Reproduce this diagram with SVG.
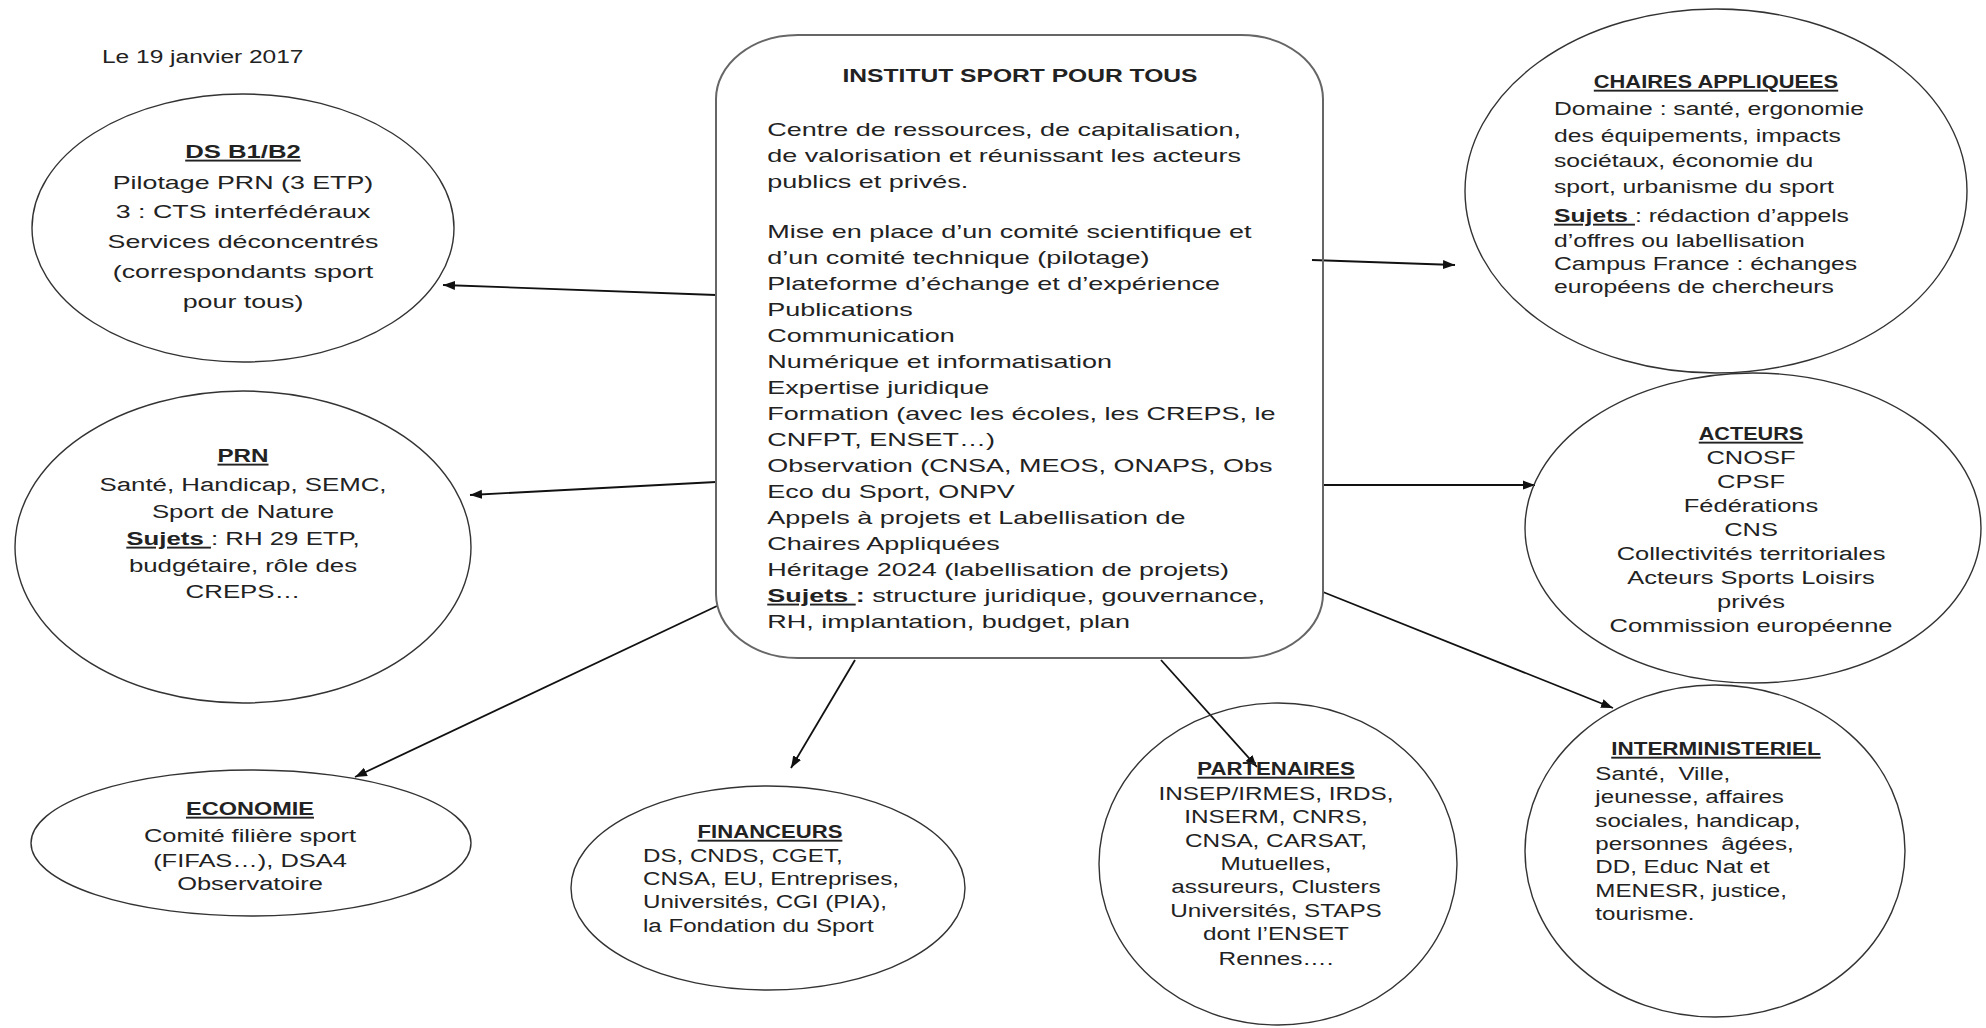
<svg xmlns="http://www.w3.org/2000/svg" width="1986" height="1028" viewBox="0 0 1986 1028">
<style>
.t{font-family:"Liberation Sans",Arial,sans-serif;font-size:19px;fill:#222}
.b{font-weight:bold}
.u{text-decoration:underline}
.m{text-anchor:middle}
.node{fill:none;stroke:#333;stroke-width:1.4}
.box{fill:none;stroke:#666;stroke-width:2}
.conn line{stroke:#111;stroke-width:1.8;marker-end:url(#ah)}
</style>
<defs>
<marker id="ah" markerUnits="userSpaceOnUse" markerWidth="13" markerHeight="10" refX="12" refY="5" orient="auto">
<path d="M0,0.5 L12,5 L0,9.5 Z" fill="#111"/>
</marker>
</defs>
<rect width="1986" height="1028" fill="#fff"/>

<g id="date" transform="translate(102,0) scale(1.29,1)">
<text class="t" x="0" y="63">Le 19 janvier 2017</text>
</g>

<g id="connectors" class="conn">
<line x1="716" y1="295" x2="443" y2="285"/>
<line x1="716" y1="482" x2="470" y2="495"/>
<line x1="717" y1="606" x2="355" y2="777"/>
<line x1="855" y1="660" x2="791" y2="768"/>
<line x1="1161" y1="660" x2="1257" y2="767"/>
<line x1="1323" y1="592" x2="1613" y2="708"/>
<line x1="1323" y1="485" x2="1535" y2="485"/>
<line x1="1312" y1="260" x2="1455" y2="265"/>
</g>

<g id="node-institut">
<rect class="box" x="716" y="35" width="607" height="623" rx="82" ry="64"/>
<g transform="translate(1020,0) scale(1.42,1)">
<text class="t b m" x="0" y="82" textLength="250" lengthAdjust="spacingAndGlyphs">INSTITUT SPORT POUR TOUS</text>
<text class="t" x="-178" y="136">Centre de ressources, de capitalisation,</text>
<text class="t" x="-178" y="162">de valorisation et réunissant les acteurs</text>
<text class="t" x="-178" y="188">publics et privés.</text>
<text class="t" x="-178" y="238">Mise en place d’un comité scientifique et</text>
<text class="t" x="-178" y="264">d’un comité technique (pilotage)</text>
<text class="t" x="-178" y="290">Plateforme d’échange et d’expérience</text>
<text class="t" x="-178" y="316">Publications</text>
<text class="t" x="-178" y="342">Communication</text>
<text class="t" x="-178" y="368">Numérique et informatisation</text>
<text class="t" x="-178" y="394">Expertise juridique</text>
<text class="t" x="-178" y="420">Formation (avec les écoles, les CREPS, le</text>
<text class="t" x="-178" y="446">CNFPT, ENSET…)</text>
<text class="t" x="-178" y="472">Observation (CNSA, MEOS, ONAPS, Obs</text>
<text class="t" x="-178" y="498">Eco du Sport, ONPV</text>
<text class="t" x="-178" y="524">Appels à projets et Labellisation de</text>
<text class="t" x="-178" y="550">Chaires Appliquées</text>
<text class="t" x="-178" y="576">Héritage 2024 (labellisation de projets)</text>
<text class="t" x="-178" y="602"><tspan class="b u">Sujets </tspan><tspan class="b">:</tspan> structure juridique, gouvernance,</text>
<text class="t" x="-178" y="628">RH, implantation, budget, plan</text>
</g>
</g>

<g id="node-ds">
<ellipse class="node" cx="243" cy="228" rx="211" ry="134"/>
<g transform="translate(243,0) scale(1.41,1)">
<text class="t b u m" x="0" y="158" textLength="82" lengthAdjust="spacingAndGlyphs">DS B1/B2</text>
<text class="t m" x="0" y="189">Pilotage PRN (3 ETP)</text>
<text class="t m" x="0" y="218">3 : CTS interfédéraux</text>
<text class="t m" x="0" y="248">Services déconcentrés</text>
<text class="t m" x="0" y="278">(correspondants sport</text>
<text class="t m" x="0" y="308">pour tous)</text>
</g>
</g>

<g id="node-prn">
<ellipse class="node" cx="243" cy="547" rx="228" ry="156"/>
<g transform="translate(243,0) scale(1.36,1)">
<text class="t b u m" x="0" y="462" textLength="37.5" lengthAdjust="spacingAndGlyphs">PRN</text>
<text class="t m" x="0" y="491">Santé, Handicap, SEMC,</text>
<text class="t m" x="0" y="518">Sport de Nature</text>
<text class="t m" x="0" y="545"><tspan class="b u">Sujets </tspan>: RH 29 ETP,</text>
<text class="t m" x="0" y="572">budgétaire, rôle des</text>
<text class="t m" x="0" y="598">CREPS…</text>
</g>
</g>

<g id="node-economie">
<ellipse class="node" cx="251" cy="843" rx="220" ry="73"/>
<g transform="translate(250,0) scale(1.34,1)">
<text class="t b u m" x="0" y="815" textLength="95.5" lengthAdjust="spacingAndGlyphs">ECONOMIE</text>
<text class="t m" x="0" y="842">Comité filière sport</text>
<text class="t m" x="0" y="867">(FIFAS…), DSA4</text>
<text class="t m" x="0" y="890">Observatoire</text>
</g>
</g>

<g id="node-financeurs">
<ellipse class="node" cx="768" cy="888" rx="197" ry="102"/>
<g transform="translate(770,0) scale(1.27,1)">
<text class="t b u m" x="0" y="838" textLength="114" lengthAdjust="spacingAndGlyphs">FINANCEURS</text>
<text class="t" x="-100" y="862">DS, CNDS, CGET,</text>
<text class="t" x="-100" y="885">CNSA, EU, Entreprises,</text>
<text class="t" x="-100" y="908">Universités, CGI (PIA),</text>
<text class="t" x="-100" y="932">la Fondation du Sport</text>
</g>
</g>

<g id="node-partenaires">
<ellipse class="node" cx="1278" cy="864" rx="179" ry="161"/>
<g transform="translate(1276,0) scale(1.28,1)">
<text class="t b u m" x="0" y="775" textLength="123" lengthAdjust="spacingAndGlyphs">PARTENAIRES</text>
<text class="t m" x="0" y="800">INSEP/IRMES, IRDS,</text>
<text class="t m" x="0" y="823">INSERM, CNRS,</text>
<text class="t m" x="0" y="847">CNSA, CARSAT,</text>
<text class="t m" x="0" y="870">Mutuelles,</text>
<text class="t m" x="0" y="893">assureurs, Clusters</text>
<text class="t m" x="0" y="917">Universités, STAPS</text>
<text class="t m" x="0" y="940">dont l’ENSET</text>
<text class="t m" x="0" y="965">Rennes….</text>
</g>
</g>

<g id="node-interministeriel">
<ellipse class="node" cx="1715" cy="851" rx="190" ry="166"/>
<g transform="translate(1716,0) scale(1.27,1)">
<text class="t b u m" x="0" y="755" textLength="165" lengthAdjust="spacingAndGlyphs">INTERMINISTERIEL</text>
<text class="t" x="-95" y="780" xml:space="preserve">Santé,  Ville,</text>
<text class="t" x="-95" y="803">jeunesse, affaires</text>
<text class="t" x="-95" y="827">sociales, handicap,</text>
<text class="t" x="-95" y="850" xml:space="preserve">personnes  âgées,</text>
<text class="t" x="-95" y="873">DD, Educ Nat et</text>
<text class="t" x="-95" y="897">MENESR, justice,</text>
<text class="t" x="-95" y="920">tourisme.</text>
</g>
</g>

<g id="node-acteurs">
<ellipse class="node" cx="1753" cy="528" rx="228" ry="155"/>
<g transform="translate(1751,0) scale(1.34,1)">
<text class="t b u m" x="0" y="440" textLength="78" lengthAdjust="spacingAndGlyphs">ACTEURS</text>
<text class="t m" x="0" y="464">CNOSF</text>
<text class="t m" x="0" y="488">CPSF</text>
<text class="t m" x="0" y="512">Fédérations</text>
<text class="t m" x="0" y="536">CNS</text>
<text class="t m" x="0" y="560">Collectivités territoriales</text>
<text class="t m" x="0" y="584">Acteurs Sports Loisirs</text>
<text class="t m" x="0" y="608">privés</text>
<text class="t m" x="0" y="632">Commission européenne</text>
</g>
</g>

<g id="node-chaires">
<ellipse class="node" cx="1716" cy="191" rx="251" ry="182"/>
<g transform="translate(1716,0) scale(1.30,1)">
<text class="t b u m" x="0" y="88" textLength="188" lengthAdjust="spacingAndGlyphs">CHAIRES APPLIQUEES</text>
<text class="t" x="-124.6" y="115">Domaine : santé, ergonomie</text>
<text class="t" x="-124.6" y="142">des équipements, impacts</text>
<text class="t" x="-124.6" y="167">sociétaux, économie du</text>
<text class="t" x="-124.6" y="193">sport, urbanisme du sport</text>
<text class="t" x="-124.6" y="222"><tspan class="b u">Sujets </tspan>: rédaction d’appels</text>
<text class="t" x="-124.6" y="247">d’offres ou labellisation</text>
<text class="t" x="-124.6" y="270">Campus France : échanges</text>
<text class="t" x="-124.6" y="293">européens de chercheurs</text>
</g>
</g>
</svg>
